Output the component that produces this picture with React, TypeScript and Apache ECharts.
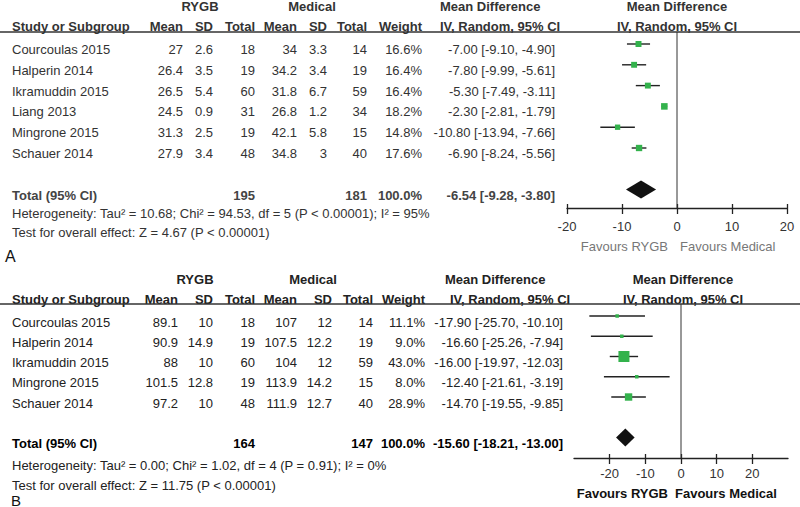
import React, { useEffect, useRef } from "react";
import * as echarts from "echarts";

// ---------- Panel A data ----------
const studiesA = ["Courcoulas 2015", "Halperin 2014", "Ikramuddin 2015", "Liang 2013", "Mingrone 2015", "Schauer 2014"];
const rygbMeanA = [27, 26.4, 26.5, 24.5, 31.3, 27.9];
const rygbSdA = [2.6, 3.5, 5.4, 0.9, 2.5, 3.4];
const rygbTotalA = [18, 19, 60, 31, 19, 48];
const medMeanA = [34, 34.2, 31.8, 26.8, 42.1, 34.8];
const medSdA = [3.3, 3.4, 6.7, 1.2, 5.8, 3];
const medTotalA = [14, 19, 59, 34, 15, 40];
const weightA = [16.6, 16.4, 16.4, 18.2, 14.8, 17.6];
const mdA = [-7.0, -7.8, -5.3, -2.3, -10.8, -6.9];
const loA = [-9.1, -9.99, -7.49, -2.81, -13.94, -8.24];
const hiA = [-4.9, -5.61, -3.11, -1.79, -7.66, -5.56];
const totalCiA = [-6.54, -9.28, -3.8];
const totalNA = [195, 181];
const heteroA = "Heterogeneity: Tau\u00b2 = 10.68; Chi\u00b2 = 94.53, df = 5 (P < 0.00001); I\u00b2 = 95%";
const testA = "Test for overall effect: Z = 4.67 (P < 0.00001)";

// ---------- Panel B data ----------
const studiesB = ["Courcoulas 2015", "Halperin 2014", "Ikramuddin 2015", "Mingrone 2015", "Schauer 2014"];
const rygbMeanB = [89.1, 90.9, 88, 101.5, 97.2];
const rygbSdB = [10, 14.9, 10, 12.8, 10];
const rygbTotalB = [18, 19, 60, 19, 48];
const medMeanB = [107, 107.5, 104, 113.9, 111.9];
const medSdB = [12, 12.2, 12, 14.2, 12.7];
const medTotalB = [14, 19, 59, 15, 40];
const weightB = [11.1, 9.0, 43.0, 8.0, 28.9];
const mdB = [-17.9, -16.6, -16.0, -12.4, -14.7];
const loB = [-25.7, -25.26, -19.97, -21.61, -19.55];
const hiB = [-10.1, -7.94, -12.03, -3.19, -9.85];
const totalCiB = [-15.6, -18.21, -13.0];
const totalNB = [164, 147];
const heteroB = "Heterogeneity: Tau\u00b2 = 0.00; Chi\u00b2 = 1.02, df = 4 (P = 0.91); I\u00b2 = 0%";
const testB = "Test for overall effect: Z = 11.75 (P < 0.00001)";

const tickValues = [-20, -10, 0, 10, 20];
const colHeads = ["Mean", "SD", "Total", "Mean", "SD", "Total", "Weight"];

const FONT = '"Liberation Sans", Arial, Helvetica, sans-serif';
const GREEN = "#33b24c";

type Panel = {
  studies: string[]; rm: number[]; rs: number[]; rt: number[]; mm: number[]; ms: number[]; mt: number[];
  w: number[]; md: number[]; lo: number[]; hi: number[]; tot: number[]; totN: number[]; het: string; test: string;
  L: any;
};

const panels: Panel[] = [
  {
    studies: studiesA, rm: rygbMeanA, rs: rygbSdA, rt: rygbTotalA, mm: medMeanA, ms: medSdA, mt: medTotalA,
    w: weightA, md: mdA, lo: loA, hi: hiA, tot: totalCiA, totN: totalNA, het: heteroA, test: testA,
    L: {
      markY0: 44, rowH: 20.8, textOff: 5.5, topY: 6, headY: 26, lineY: 32, axisY: 208, totalIdx: 7,
      heteroY: 213, testY: 232, favY: 246, cols: [183, 213, 255, 297, 327, 367, 422, 555],
      rygbX: 200, medX: 312, mdHeadX: [440, 440], plotHeadX: 677, gridLeft: 567, gridW: 220,
      xMin: -20, xMax: 20, zeroX: 677, sizeK: 0.36, minSize: 3.5, diamondH: 18,
      textColor: "#333", totalColor: "#444", favColor: "#777", favWeight: "normal", favGap: [9, 3],
      labelMargin: 12, letter: "A", letterX: 5, letterY: 256, letterSize: 16,
    },
  },
  {
    studies: studiesB, rm: rygbMeanB, rs: rygbSdB, rt: rygbTotalB, mm: medMeanB, ms: medSdB, mt: medTotalB,
    w: weightB, md: mdB, lo: loB, hi: hiB, tot: totalCiB, totN: totalNB, het: heteroB, test: testB,
    L: {
      markY0: 316, rowH: 20.25, textOff: 6, topY: 279, headY: 299, lineY: 304, axisY: 458, totalIdx: 6,
      heteroY: 465, testY: 485, favY: 493, cols: [178, 213, 255, 297, 332, 373, 425, 563],
      rygbX: 195, medX: 313, mdHeadX: [445, 450], plotHeadX: 683, gridLeft: 574, gridW: 214,
      xMin: -30, xMax: 30, zeroX: 681, sizeK: 0.256, minSize: 3.5, diamondH: 18,
      textColor: "#222", totalColor: "#000", favColor: "#111", favWeight: "bold", favGap: [13, -6],
      labelMargin: 9, letter: "B", letterX: 11, letterY: 500, letterSize: 15,
    },
  },
];

function txt(x: number, y: number, text: string, align: string, color: string, weight = "normal", size = 13) {
  return {
    type: "text",
    silent: true,
    style: {
      x, y, text, textAlign: align, textVerticalAlign: "middle",
      font: `${weight} ${size}px ${FONT}`, fill: color,
    },
  };
}

function buildGraphics() {
  const g: any[] = [];
  panels.forEach((p) => {
    const L = p.L;
    const c = L.textColor;
    // group headers
    g.push(txt(L.rygbX, L.topY, "RYGB", "center", c, "bold"));
    g.push(txt(L.medX, L.topY, "Medical", "center", c, "bold"));
    g.push(txt(L.mdHeadX[0], L.topY, "Mean Difference", "left", c, "bold"));
    g.push(txt(L.plotHeadX, L.topY, "Mean Difference", "center", c, "bold"));
    // column headers
    g.push(txt(12, L.headY, "Study or Subgroup", "left", c, "bold"));
    colHeads.forEach((h, i) => g.push(txt(L.cols[i], L.headY, h, "right", c, "bold")));
    g.push(txt(L.mdHeadX[1], L.headY, "IV, Random, 95% CI", "left", c, "bold"));
    g.push(txt(L.plotHeadX, L.headY, "IV, Random, 95% CI", "center", c, "bold"));
    g.push({
      type: "line", silent: true,
      shape: { x1: 0, y1: L.lineY, x2: 800, y2: L.lineY },
      style: { stroke: "#333", lineWidth: 1.3 },
    });
    // study rows
    p.studies.forEach((s, i) => {
      const y = L.markY0 + i * L.rowH + L.textOff;
      const vals = [p.rm[i], p.rs[i], p.rt[i], p.mm[i], p.ms[i], p.mt[i]].map((v) => String(v));
      g.push(txt(12, y, s, "left", c));
      vals.forEach((v, k) => g.push(txt(L.cols[k], y, v, "right", c)));
      g.push(txt(L.cols[6], y, p.w[i].toFixed(1) + "%", "right", c));
      g.push(txt(L.cols[7], y, `${p.md[i].toFixed(2)} [${p.lo[i].toFixed(2)}, ${p.hi[i].toFixed(2)}]`, "right", c));
    });
    // total row
    const ty = L.markY0 + L.totalIdx * L.rowH + L.textOff;
    const tc = L.totalColor;
    g.push(txt(12, ty, "Total (95% CI)", "left", tc, "bold"));
    g.push(txt(L.cols[2], ty, String(p.totN[0]), "right", tc, "bold"));
    g.push(txt(L.cols[5], ty, String(p.totN[1]), "right", tc, "bold"));
    g.push(txt(L.cols[6], ty, "100.0%", "right", tc, "bold"));
    g.push(txt(L.cols[7], ty, `${p.tot[0].toFixed(2)} [${p.tot[1].toFixed(2)}, ${p.tot[2].toFixed(2)}]`, "right", tc, "bold"));
    g.push(txt(12, L.heteroY, p.het, "left", c));
    g.push(txt(12, L.testY, p.test, "left", c));
    // favours
    g.push(txt(L.zeroX - L.favGap[0], L.favY, "Favours RYGB", "right", L.favColor, L.favWeight));
    g.push(txt(L.zeroX + L.favGap[1], L.favY, "Favours Medical", "left", L.favColor, L.favWeight));
    // panel letter
    g.push(txt(L.letterX, L.letterY, L.letter, "left", "#111", "normal", L.letterSize));
  });
  return g;
}

function buildOption() {
  const grids: any[] = [];
  const xAxes: any[] = [];
  const yAxes: any[] = [];
  const series: any[] = [];
  panels.forEach((p, pi) => {
    const L = p.L;
    grids.push({ left: L.gridLeft, width: L.gridW, top: L.lineY, height: L.axisY - L.lineY });
    const yMin = (L.lineY - L.markY0) / L.rowH;
    const yMax = (L.axisY - L.markY0) / L.rowH;
    yAxes.push({ gridIndex: pi, type: "value", inverse: true, min: yMin, max: yMax, show: false });
    const base = {
      gridIndex: pi, type: "value", min: L.xMin, max: L.xMax, interval: 10, position: "bottom",
      splitLine: { show: false },
    };
    xAxes.push({
      ...base,
      axisLine: { show: true, onZero: false, lineStyle: { color: "#222", width: 1.3 } },
      axisTick: { show: true, inside: false, length: 6, customValues: tickValues, lineStyle: { color: "#222", width: 1.3 } },
      axisLabel: {
        show: true, customValues: tickValues, margin: L.labelMargin, fontSize: 13, fontFamily: FONT, color: "#333",
        formatter: (v: number) => (Math.abs(v) > 20 ? "" : String(v)),
      },
    });
    xAxes.push({
      ...base,
      axisLine: { show: false, onZero: false },
      axisTick: { show: true, inside: true, length: 4, customValues: tickValues, lineStyle: { color: "#222", width: 1.3 } },
      axisLabel: { show: false },
    });
    const xi = pi * 2;
    // zero line
    series.push({
      type: "line", xAxisIndex: xi, yAxisIndex: pi, silent: true, symbol: "none",
      data: [[0, yMin], [0, yMax]],
      lineStyle: { color: "#333", width: 1 },
    });
    // studies
    series.push({
      type: "custom", xAxisIndex: xi, yAxisIndex: pi, silent: true,
      encode: { x: [0, 1, 2], y: 3 },
      data: p.md.map((m, i) => [m, p.lo[i], p.hi[i], i, p.w[i]]),
      renderItem: (params: any, api: any) => {
        const row = api.value(3);
        const c = api.coord([api.value(0), row]);
        const l = api.coord([api.value(1), row]);
        const h = api.coord([api.value(2), row]);
        const s = Math.max(L.minSize, api.value(4) * L.sizeK);
        return {
          type: "group",
          children: [
            { type: "line", shape: { x1: l[0], y1: c[1], x2: h[0], y2: c[1] }, style: { stroke: "#222", lineWidth: 1.4 } },
            { type: "rect", shape: { x: c[0] - s / 2, y: c[1] - s / 2, width: s, height: s }, style: { fill: GREEN } },
          ],
        };
      },
    });
    // diamond
    series.push({
      type: "custom", xAxisIndex: xi, yAxisIndex: pi, silent: true,
      encode: { x: [0, 1, 2], y: 3 },
      data: [[p.tot[0], p.tot[1], p.tot[2], L.totalIdx]],
      renderItem: (params: any, api: any) => {
        const row = api.value(3);
        const c = api.coord([api.value(0), row]);
        const l = api.coord([api.value(1), row]);
        const h = api.coord([api.value(2), row]);
        const hh = L.diamondH / 2;
        return {
          type: "polygon",
          shape: { points: [[l[0], c[1]], [c[0], c[1] - hh], [h[0], c[1]], [c[0], c[1] + hh]] },
          style: { fill: "#111" },
        };
      },
    });
  });
  return {
    animation: false,
    backgroundColor: "#fff",
    grid: grids,
    xAxis: xAxes,
    yAxis: yAxes,
    series,
    graphic: buildGraphics(),
  };
}

export default function App() {
  const ref = useRef<HTMLDivElement>(null);
  useEffect(() => {
    document.body.style.margin = "0";
    if (!ref.current) return;
    const chart = echarts.init(ref.current, undefined, { renderer: "svg" });
    chart.setOption(buildOption() as any);
    return () => chart.dispose();
  }, []);
  return <div ref={ref} style={{ width: 800, height: 507 }} />;
}
